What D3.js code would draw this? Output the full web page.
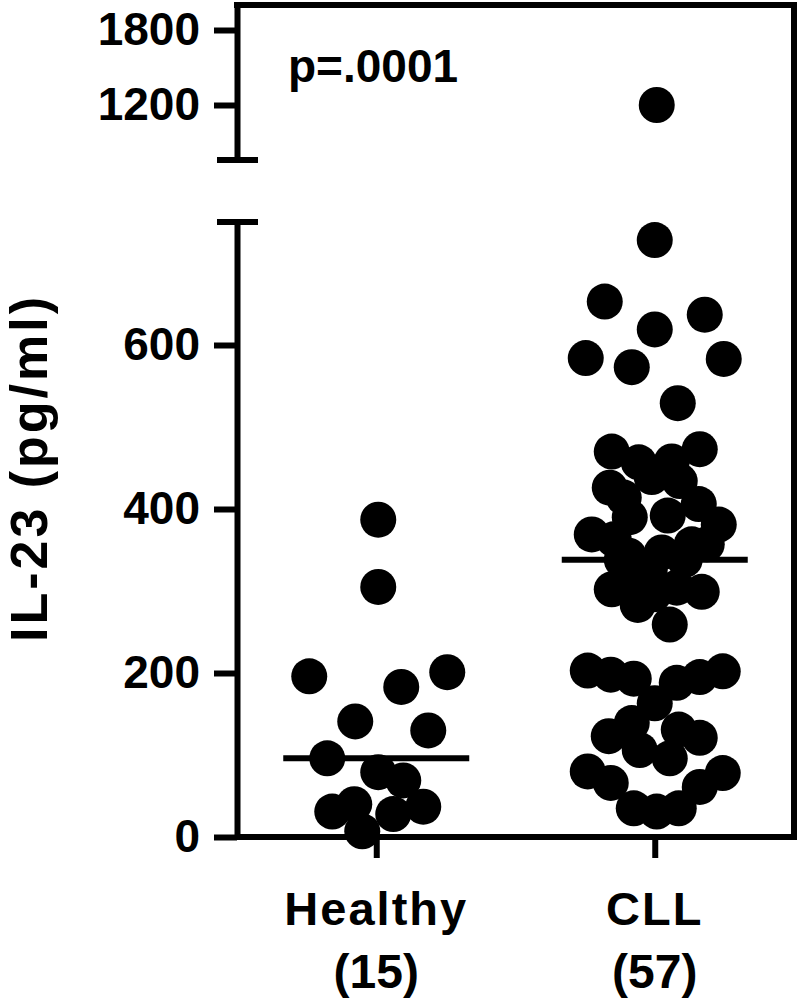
<!DOCTYPE html>
<html>
<head>
<meta charset="utf-8">
<script src="https://cdn.jsdelivr.net/npm/d3@7"></script>
<style>
  body { margin: 0; background: #fff; }
  text { font-family: "Liberation Sans", Arial, Helvetica, sans-serif; font-weight: bold; }
</style>
</head>
<body>
<svg id="chart" width="798" height="1006"></svg>
<script>
var categories = ["Healthy", "CLL"];
var groupSizes = ["(15)", "(57)"];

// IL-23 values (pg/ml) and horizontal scatter (-1..1)
var healthyValues = [387, 305, 196, 201, 183, 141, 130, 96, 79, 69, 31, 40, 28, 37, 7];
var healthyJitter = [0.02, 0.02, -0.67, 0.71, 0.25, -0.21, 0.52, -0.49, 0.02, 0.27, -0.44, -0.22, 0.17, 0.47, -0.14];

var cllValues = [
  1200, 728, 653, 637, 619, 584, 583, 573, 529,
  470, 457, 458, 473, 426, 434, 406, 381, 369, 390, 392, 363, 343, 347, 357, 357,
  302, 314, 304, 299, 283, 259, 326, 338, 338, 296, 439, 414,
  203, 198, 193, 188, 195, 202, 163, 139, 123, 131, 121, 106, 96, 80, 66, 61, 78, 35, 31, 35
];
var cllJitter = [
  0.02, 0, -0.50, 0.50, 0, -0.69, 0.69, -0.23, 0.23,
  -0.43, -0.16, 0.17, 0.45, -0.45, 0.25, 0.44, 0.64, -0.63, -0.25, 0.13, -0.41, -0.26, 0.07, 0.37, 0.52,
  -0.43, -0.16, 0.22, 0.47, -0.17, 0.15, -0.05, -0.33, 0.30, -0.01, -0.03, -0.31,
  -0.67, -0.44, -0.21, 0.22, 0.45, 0.68, 0, -0.23, -0.46, 0.24, 0.45, -0.15, 0.15, -0.67, -0.44, 0.45, 0.68, -0.21, 0.02, 0.24
];

var lowerTicks = [0, 200, 400, 600];
var upperTicks = [1200, 1800];
var lowerDomain = [0, 750];
var upperDomain = [760, 2000];
var pText = "p=.0001";
var yTitle = "IL-23 (pg/ml)";

var svg = d3.select("#chart");
var plotLeft = 237, plotRight = 794, plotBottom = 837, plotTop = 5;
var breakLow = 222, breakHigh = 160;
var lw = 6;

var x = d3.scalePoint().domain(categories).range([plotLeft, plotRight]).padding(0.5);
var jit = d3.scaleLinear().domain([-1, 1]).range([-100, 100]);
var yLow = d3.scaleLinear().domain(lowerDomain).range([plotBottom, breakLow]);
var yHigh = d3.scaleLinear().domain(upperDomain).range([breakHigh, plotTop]);
function y(v) { return v > lowerDomain[1] ? yHigh(v) : yLow(v); }

var groups = [
  { name: "Healthy", values: healthyValues, jitter: healthyJitter },
  { name: "CLL", values: cllValues, jitter: cllJitter }
];

// dots
groups.forEach(function (g) {
  svg.append("g")
    .selectAll("circle")
    .data(g.values)
    .enter()
    .append("circle")
    .attr("cx", function (d, i) { return x(g.name) + jit(g.jitter[i]); })
    .attr("cy", function (d) { return y(d); })
    .attr("r", 18)
    .style("fill", "#000");
});

// median lines
groups.forEach(function (g) {
  var m = d3.median(g.values);
  svg.append("line")
    .attr("x1", x(g.name) + jit(-0.93))
    .attr("x2", x(g.name) + jit(0.93))
    .attr("y1", y(m))
    .attr("y2", y(m))
    .style("stroke", "#000")
    .style("stroke-width", lw);
});

// frame (top + right)
svg.append("path")
  .attr("d", "M" + plotLeft + "," + plotTop + "H" + plotRight + "V" + plotBottom)
  .style("fill", "none")
  .style("stroke", "#000")
  .style("stroke-width", lw)
  .style("stroke-linecap", "square");

function styleAxis(g) {
  g.selectAll("path, line").style("stroke", "#000").style("stroke-width", lw);
  g.selectAll("text")
    .style("font-size", "46px")
    .style("font-weight", "bold")
    .style("fill", "#000");
}

// lower y axis
svg.append("g")
  .attr("transform", "translate(" + plotLeft + ",0)")
  .call(d3.axisLeft(yLow).tickValues(lowerTicks).tickSize(23).tickSizeOuter(0).tickPadding(14).tickFormat(d3.format("d")))
  .call(styleAxis);

// upper y axis
svg.append("g")
  .attr("transform", "translate(" + plotLeft + ",0)")
  .call(d3.axisLeft(yHigh).tickValues(upperTicks).tickSize(23).tickSizeOuter(0).tickPadding(14).tickFormat(d3.format("d")))
  .call(styleAxis);

// axis break caps
[breakLow, breakHigh].forEach(function (yy) {
  svg.append("line")
    .attr("x1", plotLeft - 20).attr("x2", plotLeft + 21)
    .attr("y1", yy).attr("y2", yy)
    .style("stroke", "#000")
    .style("stroke-width", lw);
});

// x axis
var xAxis = svg.append("g")
  .attr("transform", "translate(0," + plotBottom + ")")
  .call(d3.axisBottom(x).tickSize(21).tickSizeOuter(0).tickFormat(""))
  .call(styleAxis);
xAxis.select(".domain").attr("d", "M" + plotLeft + ",0H" + plotRight);

// category labels
svg.append("g")
  .selectAll("text")
  .data(categories)
  .enter()
  .append("text")
  .attr("x", function (d) { return x(d); })
  .attr("y", 925)
  .attr("text-anchor", "middle")
  .style("font-size", "47px")
  .style("letter-spacing", "2px")
  .text(function (d) { return d; });

svg.append("g")
  .selectAll("text")
  .data(groupSizes)
  .enter()
  .append("text")
  .attr("x", function (d, i) { return x(categories[i]); })
  .attr("y", 988)
  .attr("text-anchor", "middle")
  .style("font-size", "48px")
  .text(function (d) { return d; });

// p value
svg.append("text")
  .attr("x", 288)
  .attr("y", 82)
  .style("font-size", "46px")
  .text(pText);

// y title
svg.append("text")
  .attr("text-anchor", "middle")
  .attr("transform", "translate(47,468)rotate(-90)")
  .style("font-size", "52px")
  .style("letter-spacing", "3px")
  .text(yTitle);
</script>
</body>
</html>
